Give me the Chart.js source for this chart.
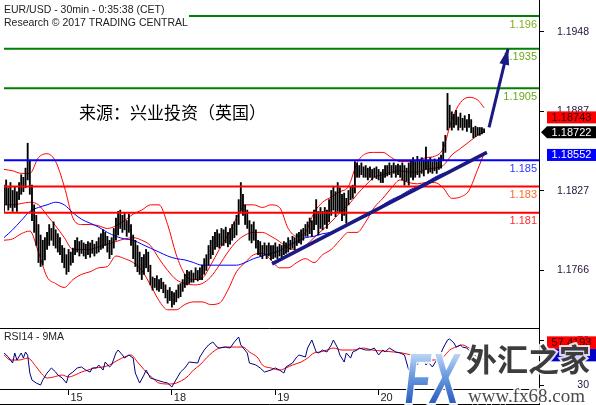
<!DOCTYPE html>
<html>
<head>
<meta charset="utf-8">
<title>EUR/USD 30min</title>
<script src="https://cdn.jsdelivr.net/npm/chart.js@4.4.1/dist/chart.umd.min.js"></script>
<style>
  html, body { margin: 0; padding: 0; background: #fff; }
  #wrap { position: relative; width: 596px; height: 405px; overflow: hidden; }
  #priceChart { position: absolute; left: 0; top: 0; }
  #rsiChart { position: absolute; left: 0; top: 328px; }
</style>
</head>
<body>
<div id="wrap">
  <canvas id="priceChart" width="596" height="328"></canvas>
  <canvas id="rsiChart" width="596" height="77"></canvas>
</div>
<script>
// EUR/USD 30min bars, 14-21 Sep 2017 (bar 0 = first bar on screen)
const highs = [
  1.1831, 1.1835, 1.1829, 1.1833, 1.1827, 1.1830, 1.1826, 1.1833, 1.1839, 1.1837,
  1.1844, 1.1863, 1.1850, 1.1831, 1.1816, 1.1808, 1.1801, 1.1793, 1.1789, 1.1791,
  1.1795, 1.1801, 1.1798, 1.1803, 1.1797, 1.1794, 1.1791, 1.1785, 1.1783, 1.1778,
  1.1782, 1.1780, 1.1783, 1.1789, 1.1791, 1.1788, 1.1789, 1.1787, 1.1786, 1.1788,
  1.1787, 1.1789, 1.1786, 1.1788, 1.1791, 1.1794, 1.1797, 1.1795, 1.1792, 1.1789,
  1.1791, 1.1798, 1.1806, 1.1811, 1.1812, 1.1808, 1.1810, 1.1804, 1.1809, 1.1801,
  1.1793, 1.1789, 1.1785, 1.1780, 1.1776, 1.1778, 1.1782, 1.1780, 1.1770, 1.1761,
  1.1760, 1.1762, 1.1759, 1.1760, 1.1757, 1.1755, 1.1751, 1.1753, 1.1750, 1.1749,
  1.1751, 1.1755, 1.1756, 1.1759, 1.1763, 1.1766, 1.1765, 1.1766, 1.1764, 1.1768,
  1.1766, 1.1768, 1.1770, 1.1775, 1.1778, 1.1785, 1.1789, 1.1792, 1.1795, 1.1797,
  1.1794, 1.1798, 1.1797, 1.1799, 1.1795, 1.1798, 1.1801, 1.1803, 1.1808, 1.1820,
  1.1833, 1.1824, 1.1816, 1.1812, 1.1804, 1.1801, 1.1803, 1.1797, 1.1789, 1.1788,
  1.1785, 1.1787, 1.1785, 1.1787, 1.1785, 1.1785, 1.1787, 1.1784, 1.1786, 1.1785,
  1.1788, 1.1787, 1.1791, 1.1789, 1.1792, 1.1791, 1.1794, 1.1795, 1.1797, 1.1798,
  1.1801, 1.1803, 1.1806, 1.1804, 1.1812, 1.1820, 1.1811, 1.1814, 1.1811, 1.1814,
  1.1812, 1.1820, 1.1827, 1.1830, 1.1826, 1.1833, 1.1829, 1.1824, 1.1825, 1.1821,
  1.1827, 1.1830, 1.1831, 1.1849, 1.1848, 1.1846, 1.1848, 1.1845, 1.1846, 1.1844,
  1.1845, 1.1843, 1.1844, 1.1845, 1.1843, 1.1841, 1.1843, 1.1846, 1.1846, 1.1848,
  1.1846, 1.1848, 1.1846, 1.1847, 1.1846, 1.1848, 1.1846, 1.1844, 1.1848, 1.1850,
  1.1852, 1.1849, 1.1853, 1.1850, 1.1852, 1.1850, 1.1860, 1.1850, 1.1852, 1.1849,
  1.1851, 1.1849, 1.1852, 1.1854, 1.1864, 1.1869, 1.1901, 1.1892, 1.1887, 1.1885,
  1.1888, 1.1883, 1.1886, 1.1882, 1.1884, 1.1881, 1.1885, 1.1881, 1.1875, 1.1876,
  1.1875, 1.1875, 1.1875, 1.1874
];
const lows = [
  1.1811, 1.1816, 1.1812, 1.1814, 1.1811, 1.1814, 1.1811, 1.1820, 1.1824, 1.1826,
  1.1829, 1.1835, 1.1824, 1.1804, 1.1795, 1.1785, 1.1772, 1.1769, 1.1770, 1.1774,
  1.1782, 1.1785, 1.1789, 1.1785, 1.1783, 1.1780, 1.1778, 1.1772, 1.1768, 1.1763,
  1.1765, 1.1770, 1.1772, 1.1778, 1.1780, 1.1777, 1.1779, 1.1777, 1.1775, 1.1778,
  1.1776, 1.1779, 1.1777, 1.1779, 1.1780, 1.1782, 1.1783, 1.1785, 1.1780, 1.1775,
  1.1778, 1.1783, 1.1789, 1.1793, 1.1798, 1.1795, 1.1797, 1.1792, 1.1795, 1.1785,
  1.1775, 1.1769, 1.1765, 1.1763, 1.1759, 1.1763, 1.1768, 1.1765, 1.1755, 1.1751,
  1.1753, 1.1751, 1.1750, 1.1752, 1.1749, 1.1745, 1.1741, 1.1743, 1.1738, 1.1740,
  1.1742, 1.1745, 1.1746, 1.1750, 1.1753, 1.1755, 1.1756, 1.1757, 1.1757, 1.1759,
  1.1758, 1.1759, 1.1759, 1.1763, 1.1766, 1.1770, 1.1775, 1.1778, 1.1782, 1.1784,
  1.1783, 1.1785, 1.1785, 1.1787, 1.1784, 1.1786, 1.1789, 1.1791, 1.1793, 1.1801,
  1.1811, 1.1808, 1.1801, 1.1798, 1.1789, 1.1787, 1.1789, 1.1783, 1.1778, 1.1777,
  1.1775, 1.1778, 1.1775, 1.1777, 1.1774, 1.1775, 1.1776, 1.1775, 1.1777, 1.1776,
  1.1778, 1.1779, 1.1780, 1.1782, 1.1783, 1.1782, 1.1785, 1.1787, 1.1786, 1.1789,
  1.1792, 1.1792, 1.1794, 1.1792, 1.1797, 1.1801, 1.1793, 1.1798, 1.1797, 1.1801,
  1.1798, 1.1803, 1.1808, 1.1812, 1.1807, 1.1811, 1.1810, 1.1804, 1.1808, 1.1802,
  1.1816, 1.1820, 1.1821, 1.1825, 1.1837, 1.1837, 1.1839, 1.1837, 1.1837, 1.1835,
  1.1837, 1.1835, 1.1837, 1.1836, 1.1835, 1.1833, 1.1833, 1.1837, 1.1838, 1.1839,
  1.1837, 1.1840, 1.1837, 1.1839, 1.1837, 1.1835, 1.1831, 1.1834, 1.1831, 1.1837,
  1.1835, 1.1837, 1.1839, 1.1837, 1.1840, 1.1838, 1.1843, 1.1840, 1.1841, 1.1840,
  1.1842, 1.1840, 1.1843, 1.1844, 1.1850, 1.1856, 1.1873, 1.1875, 1.1873, 1.1875,
  1.1877, 1.1873, 1.1875, 1.1873, 1.1875, 1.1872, 1.1875, 1.1871, 1.1867, 1.1868,
  1.1869, 1.1869, 1.1870, 1.1871
];

// Bollinger bands and moving average, read every 4 bars
const bandIdx = [0, 4, 8, 12, 16, 20, 24, 28, 32, 36, 40, 44, 48, 52, 56, 60, 64, 68, 72, 76,
  80, 84, 88, 92, 96, 100, 104, 108, 112, 116, 120, 124, 128, 132, 136, 140, 144, 148, 152, 156,
  160, 164, 168, 172, 176, 180, 184, 188, 192, 196, 200, 204, 208, 212, 216, 220, 223];
const bbUpper = [1.1843, 1.1842, 1.1840, 1.1840, 1.1852, 1.1855, 1.1849, 1.1830, 1.1806, 1.1801,
  1.1801, 1.1800, 1.1798, 1.1800, 1.1804, 1.1809, 1.1812, 1.1816, 1.1816, 1.1801,
  1.1778, 1.1763, 1.1759, 1.1760, 1.1770, 1.1782, 1.1793, 1.1806, 1.1816, 1.1816,
  1.1814, 1.1816, 1.1814, 1.1798, 1.1792, 1.1795, 1.1810, 1.1818, 1.1822, 1.1826,
  1.1830, 1.1848, 1.1855, 1.1856, 1.1856, 1.1852, 1.1849, 1.1849, 1.1850, 1.1852,
  1.1853, 1.1859, 1.1881, 1.1894, 1.1898, 1.1896, 1.1890];
const bbMiddle = [1.1816, 1.1816, 1.1817, 1.1818, 1.1816, 1.1808, 1.1800, 1.1791, 1.1782, 1.1782,
  1.1782, 1.1784, 1.1786, 1.1788, 1.1790, 1.1791, 1.1789, 1.1785, 1.1775, 1.1766,
  1.1759, 1.1756, 1.1755, 1.1756, 1.1761, 1.1770, 1.1780, 1.1788, 1.1793, 1.1795,
  1.1795, 1.1792, 1.1788, 1.1783, 1.1782, 1.1785, 1.1791, 1.1797, 1.1803, 1.1810,
  1.1816, 1.1824, 1.1831, 1.1837, 1.1839, 1.1841, 1.1842, 1.1841, 1.1841, 1.1843,
  1.1844, 1.1846, 1.1854, 1.1859, 1.1864, 1.1869, 1.1872];
const bbLower = [1.1789, 1.1790, 1.1794, 1.1796, 1.1780, 1.1761, 1.1756, 1.1753, 1.1759, 1.1763,
  1.1765, 1.1768, 1.1769, 1.1777, 1.1775, 1.1772, 1.1766, 1.1755, 1.1743, 1.1736,
  1.1736, 1.1740, 1.1742, 1.1742, 1.1740, 1.1741, 1.1751, 1.1765, 1.1772, 1.1778,
  1.1779, 1.1774, 1.1768, 1.1768, 1.1772, 1.1775, 1.1772, 1.1778, 1.1782, 1.1789,
  1.1795, 1.1795, 1.1803, 1.1814, 1.1821, 1.1829, 1.1835, 1.1833, 1.1832, 1.1833,
  1.1833, 1.1829, 1.1821, 1.1822, 1.1827, 1.1843, 1.1855];
const maLine = [1.1791, 1.1797, 1.1804, 1.1811, 1.1814, 1.1816, 1.1818, 1.1816, 1.1810, 1.1805,
  1.1802, 1.1799, 1.1795, 1.1792, 1.1790, 1.1789, 1.1786, 1.1783, 1.1780, 1.1777,
  1.1775, 1.1774, 1.1772, 1.1770, 1.1770, 1.1770, 1.1770, 1.1770, 1.1772, 1.1775,
  1.1777, 1.1779, 1.1781, 1.1785, 1.1788, 1.1791, 1.1792, 1.1794, 1.1795, 1.1797,
  1.1801, 1.1804, 1.1807, 1.1811, 1.1816, 1.1820, 1.1823, 1.1827, 1.1830, 1.1833,
  1.1837, 1.1840, 1.1842, 1.1846, 1.1849, 1.1853, 1.1855];

// RSI14 and its 9 period average
const rsiIdx = [0, 2, 4, 5, 6, 8, 9, 10, 11, 12, 13, 15, 17, 18, 20, 22, 24, 25, 27, 29,
  30, 32, 34, 36, 38, 40, 41, 43, 44, 46, 47, 49, 50, 52, 53, 55, 56, 58, 60, 61,
  63, 65, 66, 68, 71, 74, 76, 78, 79, 82, 84, 86, 90, 91, 93, 95, 97, 99, 100, 103,
  105, 107, 109, 110, 113, 114, 117, 119, 121, 124, 126, 128, 130, 131, 134, 136, 137, 140, 141, 143,
  145, 146, 148, 150, 152, 153, 155, 156, 158, 159, 161, 162, 164, 165, 168, 170, 172, 174, 176, 177,
  179, 182, 184, 186, 188, 190, 191, 192, 194, 196, 197, 199, 201, 202, 204, 206, 207, 209, 210, 212,
  213, 215, 218, 220, 223];
const rsiValues = [59.1, 55.5, 50.0, 59.1, 52.7, 59.1, 54.5, 60.0, 57.0, 40.9,
  34.5, 31.8, 30.0, 34.5, 40.9, 45.5, 41.8, 39.1, 36.4, 31.8,
  39.1, 41.8, 45.5, 46.4, 43.6, 41.8, 45.5, 45.5, 48.2, 43.6,
  50.9, 46.4, 48.2, 59.1, 61.8, 57.3, 54.5, 57.3, 54.5, 40.9,
  31.8, 39.1, 43.6, 36.4, 34.5, 32.7, 31.8, 28.2, 31.8, 41.8,
  45.5, 50.9, 50.0, 55.5, 61.8, 66.4, 69.1, 64.5, 63.6, 64.5,
  63.6, 69.1, 73.6, 66.4, 59.1, 50.0, 48.2, 45.5, 41.8, 43.6,
  45.5, 43.6, 40.9, 46.4, 50.0, 55.5, 57.3, 55.5, 63.6, 70.9,
  60.0, 59.1, 61.8, 60.0, 66.4, 70.9, 63.6, 57.3, 50.9, 59.1,
  54.5, 60.0, 61.8, 63.6, 61.8, 61.8, 63.6, 57.3, 61.8, 60.0,
  63.6, 60.0, 59.1, 57.3, 43.6, 50.9, 57.3, 48.2, 57.3, 48.2,
  50.9, 46.4, 52.7, 54.5, 63.6, 70.9, 71.8, 68.2, 64.5, 66.4,
  64.5, 63.6, 57.3, 55.5, 53.0];
const rsiMaIdx = [0, 3, 7, 11, 15, 18, 20, 23, 27, 30, 33, 36, 39, 42, 46, 49, 53, 56, 59, 62,
  64, 66, 69, 72, 77, 80, 85, 88, 91, 94, 97, 100, 104, 108, 111, 114, 118, 120, 124, 128,
  131, 134, 138, 141, 144, 147, 150, 153, 157, 162, 167, 171, 176, 181, 185, 189, 193, 199, 204, 207,
  210, 213, 216, 220, 222];
const rsiMaValues = [57.3, 52.7, 52.7, 54.5, 46.4, 39.1, 36.4, 37.3, 39.1, 37.3,
  39.1, 41.8, 43.6, 45.5, 46.4, 48.2, 52.7, 55.5, 57.3, 50.9,
  46.4, 41.8, 36.4, 31.8, 30.9, 31.8, 37.3, 43.6, 48.2, 54.5,
  60.0, 63.6, 64.5, 64.5, 64.5, 60.0, 54.5, 48.2, 45.5, 43.6,
  45.5, 48.2, 50.9, 54.5, 59.1, 60.0, 61.8, 63.6, 61.8, 61.8,
  63.6, 61.8, 60.9, 60.0, 59.1, 57.3, 55.5, 52.7, 55.5, 61.8,
  64.5, 66.4, 63.6, 60.0, 57.4];

// axes
const dayStarts = [30, 78, 126, 174];
const dayLabels = ['15', '18', '19', '20'];
const priceTicks = [1.1766, 1.18266, 1.18872, 1.19478];
const rsiTicks = [30, 70];

// analyst levels and drawings
const levels = [1.196, 1.1935, 1.1905, 1.185, 1.183, 1.181];
const levelColors = ['#008000', '#008000', '#008000', '#0000ff', '#ff0000', '#ff0000'];
const levelTextColors = ['#7fae1e', '#6aa81e', '#6aa81e', '#2a3cff', '#ff6a2a', '#ff2a2a'];
const trendIdx = [124.5, 224.3];
const trendPrice = [1.1771, 1.1856];
const arrowIdx = [225.3, 234.1];
const arrowPrice = [1.1875, 1.1935];
const tagValues = [1.18743, 1.18722, 1.18552];
const rsiTagValue = 57.4193;

const titleLines = ['EUR/USD - 30min - 0:35:38 (CET)', 'Research \u00a9 2017 TRADING CENTRAL'];
const sourceText = '来源：兴业投资（英国）';

const X_MAX = 248.5;
const NAVY = '#1a1a82';
const AXIS_TEXT = '#24103c';
const FONT = '"Liberation Sans", Arial, sans-serif';

Chart.defaults.font.family = FONT;
Chart.defaults.animation = false;

const pts = (xs, ys) => xs.map((v, i) => ({ x: v, y: ys[i] }));
const thinLine = (data, color, order, width) => ({
    type: 'line',
    data: data,
    borderColor: color,
    borderWidth: width || 1,
    pointRadius: 0,
    fill: false,
    cubicInterpolationMode: 'monotone',
    order: order
});

const priceDecor = {
    id: 'priceDecor',
    afterDatasetsDraw(chart) {
        const { ctx, chartArea, scales: { x, y } } = chart;
        ctx.save();

        // level labels under each line
        ctx.font = '11px ' + FONT;
        ctx.textAlign = 'right';
        ctx.textBaseline = 'alphabetic';
        levels.forEach((v, i) => {
            ctx.fillStyle = levelTextColors[i];
            ctx.fillText(String(v), chartArea.right - 2, y.getPixelForValue(v) + 11.5);
        });

        // arrow head
        const x1 = x.getPixelForValue(arrowIdx[0]), y1 = y.getPixelForValue(arrowPrice[0]);
        const x2 = x.getPixelForValue(arrowIdx[1]), y2 = y.getPixelForValue(arrowPrice[1]);
        const ang = Math.atan2(y2 - y1, x2 - x1);
        const len = 16, half = 5;
        const bx = x2 - len * Math.cos(ang), by = y2 - len * Math.sin(ang);
        ctx.fillStyle = NAVY;
        ctx.beginPath();
        ctx.moveTo(x2, y2);
        ctx.lineTo(bx + half * Math.sin(ang), by - half * Math.cos(ang));
        ctx.lineTo(bx - half * Math.sin(ang), by + half * Math.cos(ang));
        ctx.closePath();
        ctx.fill();

        // title block
        ctx.font = '10.5px ' + FONT;
        ctx.textAlign = 'left';
        const tw = Math.max(ctx.measureText(titleLines[0]).width, ctx.measureText(titleLines[1]).width);
        ctx.fillStyle = '#fff';
        ctx.fillRect(0, 0, 4 + tw + 1, 28);
        ctx.fillStyle = '#222';
        ctx.fillText(titleLines[0], 4, 13);
        ctx.fillText(titleLines[1], 4, 26);

        // source note
        ctx.font = '17px "Noto Sans CJK SC", sans-serif';
        ctx.fillStyle = '#000';
        ctx.textBaseline = 'middle';
        ctx.fillText(sourceText, chartArea.left + 75, 113);
        ctx.restore();
    },
    afterDraw(chart) {
        const { ctx, chartArea, scales: { y } } = chart;
        const left = chartArea.right + 8;
        const w = chart.width - left;
        const mid = left + w / 2;
        ctx.save();
        ctx.font = '11px ' + FONT;
        ctx.textAlign = 'center';
        ctx.textBaseline = 'middle';

        // upper band value, nudged up to clear the last price
        let cy = y.getPixelForValue(tagValues[0]) - 11;
        ctx.fillStyle = '#ff0000';
        ctx.fillRect(left, cy - 6, w, 12);
        ctx.fillStyle = '#1a0000';
        ctx.fillText(tagValues[0].toFixed(5), mid, cy + 0.5);

        // last price
        cy = y.getPixelForValue(tagValues[1]) + 1;
        ctx.fillStyle = '#000';
        ctx.beginPath();
        ctx.moveTo(chartArea.right + 2, cy);
        ctx.lineTo(left, cy - 6);
        ctx.lineTo(chart.width, cy - 6);
        ctx.lineTo(chart.width, cy + 6);
        ctx.lineTo(left, cy + 6);
        ctx.closePath();
        ctx.fill();
        ctx.fillStyle = '#fff';
        ctx.fillText(tagValues[1].toFixed(5), mid, cy + 0.5);

        // moving average value
        cy = y.getPixelForValue(tagValues[2]) + 1.5;
        ctx.fillStyle = '#0000ff';
        ctx.fillRect(left, cy - 6, w, 12);
        ctx.fillStyle = '#fff';
        ctx.fillText(tagValues[2].toFixed(5), mid, cy + 0.5);
        ctx.restore();
    }
};

const rsiDecor = {
    id: 'rsiDecor',
    afterDraw(chart) {
        const { ctx, chartArea, scales: { y } } = chart;
        const right = Math.round(chartArea.right) + 0.5;
        ctx.save();

        // panel frame lines
        ctx.strokeStyle = '#000';
        ctx.lineWidth = 1;
        ctx.beginPath();
        ctx.moveTo(0, 0.5); ctx.lineTo(right, 0.5);
        ctx.moveTo(0, Math.round(chartArea.bottom) + 0.5); ctx.lineTo(right, Math.round(chartArea.bottom) + 0.5);
        ctx.moveTo(0, chart.height - 0.5); ctx.lineTo(right, chart.height - 0.5);
        ctx.moveTo(right, 0); ctx.lineTo(right, chart.height);
        ctx.stroke();

        ctx.font = '10.5px ' + FONT;
        ctx.fillStyle = '#222';
        ctx.textAlign = 'left';
        ctx.textBaseline = 'alphabetic';
        ctx.fillText('RSI14 - 9MA', 4, 11.5);

        // value boxes (cover the 70 tick like the original)
        const left = chartArea.right + 8;
        const w = chart.width - left;
        const cy = y.getPixelForValue(rsiTagValue) - 12;
        ctx.fillStyle = '#0000c8';
        ctx.fillRect(left, cy + 5.5, w, 13);
        ctx.fillStyle = '#ff0000';
        ctx.fillRect(left, cy - 6.5, w, 12.5);
        ctx.font = '11px ' + FONT;
        ctx.textAlign = 'center';
        ctx.textBaseline = 'middle';
        ctx.fillStyle = '#2a0000';
        ctx.fillText(rsiTagValue.toFixed(4), left + w / 2, cy + 0.5);

        // site watermark
        ctx.save();
        ctx.translate(405, 75);
        ctx.scale(0.6, 1);
        ctx.font = 'italic bold 70px ' + FONT;
        ctx.textAlign = 'left';
        ctx.textBaseline = 'alphabetic';
        const grad = ctx.createLinearGradient(0, -52, 0, 0);
        grad.addColorStop(0, '#c4def8');
        grad.addColorStop(0.45, '#6f9fe0');
        grad.addColorStop(1, '#2b5cc0');
        ctx.lineWidth = 4;
        ctx.strokeStyle = 'rgba(255,255,255,0.9)';
        ctx.strokeText('FX', 0, 0);
        ctx.fillStyle = grad;
        ctx.fillText('FX', 0, 0);
        ctx.restore();

        ctx.textAlign = 'left';
        ctx.textBaseline = 'top';
        ctx.font = 'bold 31px "Noto Sans CJK SC", sans-serif';
        ctx.lineWidth = 4;
        ctx.strokeStyle = 'rgba(255,255,255,0.85)';
        ctx.strokeText('外汇之家', 466, 16);
        ctx.fillStyle = '#3c3c3c';
        ctx.fillText('外汇之家', 466, 16);

        ctx.textBaseline = 'alphabetic';
        ctx.font = '19px "Liberation Serif", "Times New Roman", serif';
        ctx.strokeText('www.fx68.com', 468, 74);
        ctx.fillStyle = '#4a4a4a';
        ctx.fillText('www.fx68.com', 468, 74);
        ctx.restore();
    }
};

const rightAxisFit = scale => {
    scale.width = 50;
    scale.paddingTop = 0;
    scale.paddingBottom = 0;
};

new Chart(document.getElementById('priceChart'), {
    type: 'bar',
    data: {
        datasets: [
            thinLine(pts(bandIdx, bbUpper), '#ff0000', 6),
            thinLine(pts(bandIdx, bbMiddle), '#ff0000', 6),
            thinLine(pts(bandIdx, bbLower), '#ff0000', 6),
            thinLine(pts(bandIdx, maLine), '#0000ff', 5),
            {
                label: 'EUR/USD',
                data: highs.map((h, i) => ({ x: i, y: [lows[i], h] })),
                backgroundColor: '#000',
                borderWidth: 0,
                barThickness: 1.2,
                grouped: false,
                order: 4
            },
            ...levels.map((v, i) => ({
                type: 'line',
                data: [{ x: 0, y: v }, { x: X_MAX, y: v }],
                borderColor: levelColors[i],
                borderWidth: 2,
                pointRadius: 0,
                order: 3
            })),
            {
                type: 'line',
                data: pts(trendIdx, trendPrice),
                borderColor: NAVY,
                borderWidth: 3.5,
                pointRadius: 0,
                order: 2
            },
            {
                type: 'line',
                data: pts(arrowIdx, arrowPrice),
                borderColor: NAVY,
                borderWidth: 3,
                pointRadius: 0,
                order: 1
            }
        ]
    },
    options: {
        responsive: false,
        events: [],
        layout: { padding: { left: 4, right: 7, top: 0, bottom: 0 } },
        scales: {
            x: {
                type: 'linear',
                display: false,
                min: 0,
                max: X_MAX,
                offset: false,
                grid: { offset: false }
            },
            y: {
                position: 'right',
                min: 1.17221,
                max: 1.19722,
                afterBuildTicks: scale => { scale.ticks = priceTicks.map(v => ({ value: v })); },
                afterFit: rightAxisFit,
                ticks: {
                    color: AXIS_TEXT,
                    font: { size: 10.5 },
                    padding: 12,
                    crossAlign: 'far',
                    callback: value => value.toFixed(4)
                },
                grid: { drawOnChartArea: false, drawTicks: true, tickLength: 5, color: '#000' },
                border: { display: true, color: '#000' }
            }
        },
        plugins: {
            legend: { display: false },
            tooltip: { enabled: false }
        }
    },
    plugins: [priceDecor]
});

new Chart(document.getElementById('rsiChart'), {
    type: 'line',
    data: {
        datasets: [
            {
                label: 'RSI14',
                data: pts(rsiIdx, rsiValues),
                borderColor: '#000080',
                borderWidth: 1,
                pointRadius: 0,
                tension: 0,
                order: 1
            },
            {
                label: '9MA',
                data: pts(rsiMaIdx, rsiMaValues),
                borderColor: '#ff0000',
                borderWidth: 1,
                pointRadius: 0,
                cubicInterpolationMode: 'monotone',
                order: 2
            }
        ]
    },
    options: {
        responsive: false,
        events: [],
        layout: { padding: { left: 4, right: 7, top: 0, bottom: 0 } },
        scales: {
            x: {
                type: 'linear',
                min: 0,
                max: X_MAX,
                afterBuildTicks: scale => { scale.ticks = dayStarts.map(v => ({ value: v })); },
                afterFit: scale => {
                    scale.height = 16;
                    scale.paddingLeft = 0;
                    scale.paddingRight = 0;
                },
                ticks: {
                    autoSkip: false,
                    maxRotation: 0,
                    labelOffset: 8,
                    padding: -4,
                    color: '#222',
                    font: { size: 11 },
                    callback: value => {
                        const k = dayStarts.indexOf(value);
                        return k >= 0 ? dayLabels[k] : '';
                    }
                },
                grid: { drawOnChartArea: false, drawTicks: true, tickLength: 6, color: '#000' },
                border: { display: true, color: '#000' }
            },
            y: {
                position: 'right',
                min: 26.4,
                max: 81.8,
                afterBuildTicks: scale => { scale.ticks = rsiTicks.map(v => ({ value: v })); },
                afterFit: rightAxisFit,
                ticks: {
                    color: AXIS_TEXT,
                    font: { size: 10.5 },
                    padding: 32,
                    crossAlign: 'far'
                },
                grid: { drawOnChartArea: false, drawTicks: true, tickLength: 5, color: '#000' },
                border: { display: true, color: '#000' }
            }
        },
        plugins: {
            legend: { display: false },
            tooltip: { enabled: false }
        }
    },
    plugins: [rsiDecor]
});
</script>
</body>
</html>
